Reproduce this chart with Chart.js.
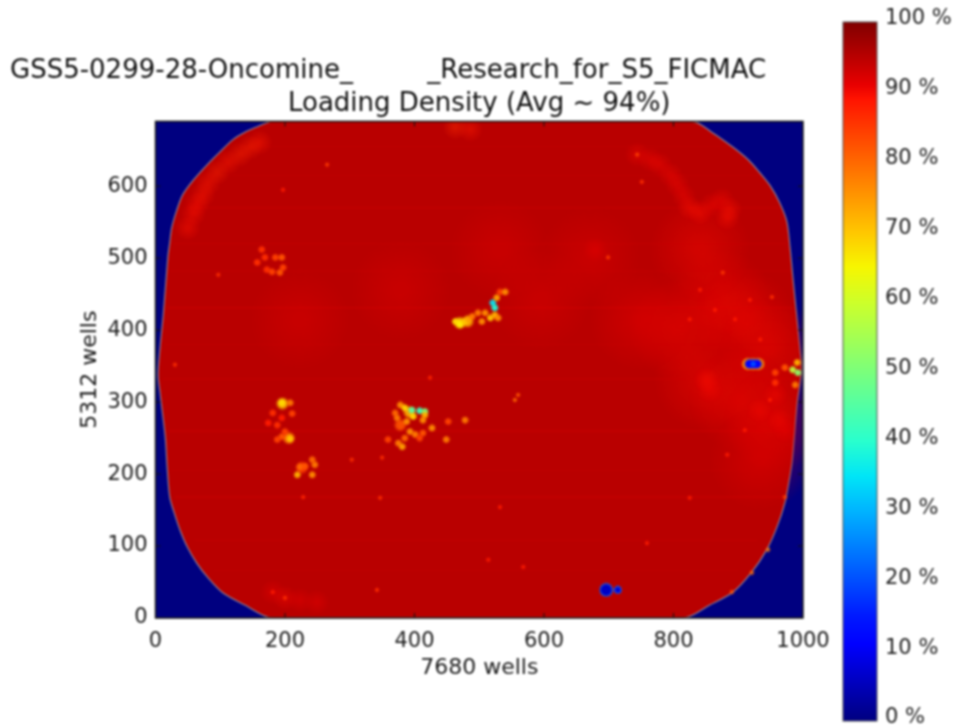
<!DOCTYPE html>
<html><head><meta charset="utf-8">
<style>
html,body{margin:0;padding:0;background:#fff;overflow:hidden;width:955px;height:728px}
canvas{position:absolute;top:0;filter:blur(0.9px)}
#main{left:0}
#bar{left:835px}
</style>
<script src="https://cdn.jsdelivr.net/npm/chart.js@4"></script>
</head><body>
<canvas id="main" width="856" height="760"></canvas>
<canvas id="bar" width="120" height="760"></canvas>
<script>
const titleLine1 = "GSS5-0299-28-Oncomine_         _Research_for_S5_FICMAC";
const titleLine2 = "Loading Density (Avg ~ 94%)";
const xLabel = "7680 wells";
const yLabel = "5312 wells";
const xTicks = [0,200,400,600,800,1000];
const yTicks = [0,100,200,300,400,500,600];
const barTicks = [0,10,20,30,40,50,60,70,80,90,100];
const emptyLevel = 0;
const baseLevel = 95;

// chamber outline in well coordinates
const edgeX = [177,829,859,892,915,933,949,964,975,980,984,995,998,991,983,978,972,960,944,921,892,856,815,181,138,104,81,64,49,38,29,22,18,15,7,4,7,12,19,22,25,33,42,59,80,100,120,138,158,177];
const edgeY = [690,690,675,654,637,619,601,577,551,515,477,376,345,299,216,188,160,127,95,64,36,18,0,0,18,35,56,76,99,122,146,168,210,252,313,338,376,421,501,522,542,567,588,609,630,648,665,675,683,690];

// faint horizontal streaks
const streakY = [655,615,570,520,482,431,380,332,260,205,168,108,66];
const streakFrom = [130,80,48,28,24,18,14,12,20,24,30,60,90];
const streakTo = [885,935,965,976,980,985,990,990,980,978,972,930,900];
const streakLevel = [93,93,92,93,93,91,93,92,91,93,91,93,93];

// broad, slightly brighter areas
const areaX = [872,910,948,848,903,957,933,810,748,671,594,378,223,532,841];
const areaY = [442,415,373,331,303,275,220,401,415,501,442,456,415,512,512];
const areaLevel = [90,90,90,90,90,90,91,90,91,92,92,92,92,92,90];

// bands of brighter wells near the top corners, right side and the edge
const bandX = [161,146,130,112,95,81,73,64,58,50, 744,764,779,795,806,816,825,841,859,875,887,883, 933,957,964,851,856,972,679, 181,200,223,249, 463,486];
const bandY = [661,654,644,633,619,604,588,575,561,542, 644,637,630,616,602,586,570,563,574,581,568,556, 289,310,275,331,317,261,512, 36,28,25,22, 682,679];
const bandLevel = [88,87,87,88,87,88,88,89,89,89, 90,90,90,90,90,90,89,89,90,90,89,89, 90,90,90,89,90,91,91, 91,90,91,91, 86,88];

// larger low density patches
const patchX = [470,482,196,206,392,226,378];
const patchY = [410,412,298,250,286,209,268];
const patchLevel = [68,72,70,76,72,84,82];

// low density clusters
const hotX = [195,208,181,211,188,195,208,195,188,200,174,
  223,219,242,246,242,231,
  378,385,396,408,416,416,413,388,398,370,373,393,401,427,413,408,385,375,381,359,452,478,449,
  463,470,478,483,489,498,504,509,517,524,529,521,524,527,532,540,
  984,992,991,957,957,972,988,
  197,192,169,157,185,172,180,164,195];
const hotY = [299,299,285,284,268,278,249,252,248,259,271,
  210,199,199,213,220,211,
  296,292,289,288,287,282,275,273,280,285,278,259,255,264,257,250,250,243,238,248,273,275,248,
  412,408,412,415,419,424,412,424,417,421,417,438,431,445,453,453,
  345,341,355,341,327,348,324,
  487,480,501,494,501,484,481,512,501];
const hotLevel = [68,78,86,84,86,88,70,82,84,84,88,
  80,72,76,78,80,82,
  76,68,45,42,50,72,76,76,68,80,78,76,78,76,82,84,80,78,74,84,84,78,78,
  68,66,70,74,78,78,76,76,70,72,76,35,38,74,84,76,
  58,52,72,84,86,82,78,
  84,82,86,86,84,86,84,86,82];

// single bright wells
const speckX = [265,555,560,532,514,568,825,759,883,342,200,181,30,946,921,890,972,744,699,876,952,751,97,197,347,228,424,303,350,841,864,895,934,918,825,949,910];
const speckY = [630,303,310,154,81,71,167,104,227,39,28,36,352,95,63,36,168,644,501,480,446,606,477,595,167,168,334,220,223,456,428,415,387,442,415,303,261];
const speckLevel = [85,80,82,88,88,88,88,88,88,86,86,88,86,78,80,82,84,84,85,85,86,86,86,88,86,87,87,86,86,88,88,88,88,88,88,88,88];

// empty spots: halo, then hole, then core
const haloX = [915,923,931];
const haloY = [353,353,353];
const haloLevel = [74,74,74];
const holeX = [917,923,929];
const holeY = [353,353,353];
const holeLevel = [11,11,11];
const coreX = [923];
const coreY = [353];
const coreLevel = [20];
const pitRingX = [696,714];
const pitRingY = [39,39];
const pitRingLevel = [22,22];
const pitX = [696,714];
const pitY = [39,39];
const pitLevel = [6,8];

function jet(v, a){
  const t = v/100;
  const f = (x)=>Math.round(255*Math.max(0,Math.min(1,x)));
  const r = f(t<0.35?0:t<0.66?(t-0.35)/0.31:t<0.89?1:1-(t-0.89)/0.11*0.5);
  const g = f(t<0.125?0:t<0.375?(t-0.125)/0.25:t<0.64?1:t<0.91?1-(t-0.64)/0.27:0);
  const b = f(t<0.11?0.5+t/0.11*0.5:t<0.34?1:t<0.65?1-(t-0.34)/0.31:0);
  return `rgba(${r},${g},${b},${a===undefined?1:a})`;
}
const pts = (xs,ys)=>xs.map((x,i)=>({x,y:ys[i]}));
const font = "'DejaVu Sans'";

// a round marker image, solid in the middle and fading at its rim
function softDot(level, radius, alpha, solid){
  const n = Math.ceil(radius*2), c = document.createElement('canvas');
  c.width = n; c.height = n;
  const g = c.getContext('2d'), r = g.createRadialGradient(n/2,n/2,0,n/2,n/2,radius);
  r.addColorStop(0, jet(level,alpha));
  r.addColorStop(solid, jet(level,alpha));
  r.addColorStop(1, jet(level,0));
  g.fillStyle = r; g.fillRect(0,0,n,n);
  return c;
}
function spots(xs,ys,levels,radius,alpha,solid,order){
  const rad = (i)=>Array.isArray(radius)?radius[i]:radius;
  return {type:'scatter',data:pts(xs,ys),pointRadius:levels.map((v,i)=>rad(i)),pointHoverRadius:radius,
    pointStyle:levels.map((v,i)=>softDot(v,rad(i),alpha,solid)),order};
}
function ticksOn(data,rot){
  return {type:'scatter',data,pointStyle:'line',pointRadius:5,pointRotation:rot,
    pointBorderColor:'#111',pointBorderWidth:1,order:1};
}

const frame = (color,w)=>({id:'frame',afterDraw(c){const a=c.chartArea,x=c.ctx;x.save();x.strokeStyle=color;x.lineWidth=w;
  x.strokeRect(a.left,a.top,a.right-a.left,a.bottom-a.top);x.restore();}});
const plotBack = {id:'plotBack',beforeDraw(c){const a=c.chartArea,x=c.ctx;x.save();x.fillStyle=jet(emptyLevel);
  x.fillRect(a.left,a.top,a.right-a.left,a.bottom-a.top);x.restore();}};

const datasets = [
  {type:'scatter',showLine:true,data:pts(edgeX,edgeY),fill:'shape',backgroundColor:jet(baseLevel),
   borderColor:'#8f8096',borderWidth:1.2,tension:0.3,pointRadius:0,order:100},
  spots(areaX,areaY,areaLevel,52,0.42,0.1,90),
  ...streakY.map((y,i)=>({type:'scatter',showLine:true,data:[{x:streakFrom[i],y},{x:streakTo[i],y}],
    borderColor:jet(streakLevel[i],0.28),borderWidth:1.5,pointRadius:0,order:85})),
  spots(bandX,bandY,bandLevel,13,0.42,0.1,80),
  spots(speckX,speckY,speckLevel,3,0.9,0.3,60),
  spots(patchX,patchY,patchLevel,7,0.9,0.5,55),
  spots(hotX,hotY,hotLevel,4.4,0.95,0.45,50),
  spots(haloX,haloY,haloLevel,7,0.8,0.7,40),
  spots(holeX,holeY,holeLevel,5.5,1,0.6,39),
  spots(coreX,coreY,coreLevel,3.5,1,0.5,38),
  spots(pitRingX,pitRingY,pitRingLevel,[7.5,4.5],1,0.75,37),
  spots(pitX,pitY,pitLevel,[6,3.2],1,0.8,36),
  ticksOn(xTicks.map(x=>({x,y:0})),90),
  ticksOn(xTicks.map(x=>({x,y:690})),90),
  ticksOn(yTicks.map(y=>({x:0,y})),0),
  ticksOn(yTicks.map(y=>({x:1000,y})),0)
];

new Chart(document.getElementById('main'),{
  type:'scatter',
  data:{datasets},
  options:{
    responsive:false,animation:false,events:[],
    layout:{padding:{left:10,right:32,top:0,bottom:79}},
    plugins:{
      legend:{display:false},tooltip:{enabled:false},
      title:{display:true,text:titleLine1,align:'start',color:'#111',font:{family:font,size:26,weight:'normal'},padding:{top:56,bottom:0}},
      subtitle:{display:true,text:titleLine2,align:'center',fullSize:false,color:'#111',font:{family:font,size:26,weight:'normal'},padding:{top:1,bottom:2}}
    },
    scales:{
      x:{type:'linear',min:0,max:1000,grid:{display:false},border:{display:false},
        afterBuildTicks:s=>{s.ticks=xTicks.map(value=>({value}));},
        afterFit:s=>{s.height=63;s.paddingLeft=0;s.paddingRight=0;},
        ticks:{color:'#1c1c1c',font:{family:font,size:21},padding:3,maxRotation:0,autoSkip:false,callback:v=>String(v)},
        title:{display:true,text:xLabel,color:'#1c1c1c',font:{family:font,size:22},padding:{top:0,bottom:0}}},
      y:{type:'linear',min:0,max:690,grid:{display:false},border:{display:false},
        afterBuildTicks:s=>{s.ticks=yTicks.map(value=>({value}));},
        afterFit:s=>{s.width=145.5;s.paddingTop=0;s.paddingBottom=0;},
        ticks:{color:'#1c1c1c',font:{family:font,size:21},padding:0,autoSkip:false,callback:v=>String(v)},
        title:{display:true,text:yLabel,color:'#1c1c1c',font:{family:font,size:22},padding:{top:67,bottom:0}}}
    }
  },
  plugins:[plotBack,frame('#1a1a1a',1.5)]
});

const barLabels = ['density'];
const barValues = [100];
const barStops = [0,5,10,11,15,20,25,30,35,40,45,50,55,60,65,70,75,80,85,89,91,95,100];
new Chart(document.getElementById('bar'),{
  type:'bar',
  data:{labels:barLabels,datasets:[{data:barValues,barPercentage:1,categoryPercentage:1,
    backgroundColor:(c)=>{const a=c.chart.chartArea;if(!a)return jet(50);
      const g=c.chart.ctx.createLinearGradient(0,a.bottom,0,a.top);
      barStops.forEach(v=>g.addColorStop(v/100,jet(v)));return g;}}]},
  options:{
    responsive:false,animation:false,events:[],
    layout:{padding:{left:8,right:0,top:22,bottom:39}},
    plugins:{legend:{display:false},tooltip:{enabled:false}},
    scales:{
      x:{display:false},
      y:{type:'linear',position:'right',min:0,max:100,grid:{display:false},border:{display:false},
        afterBuildTicks:s=>{s.ticks=barTicks.map(value=>({value}));},
        afterFit:s=>{s.width=78;},
        ticks:{color:'#222',font:{family:font,size:21},padding:0,labelOffset:-3,autoSkip:false,callback:v=>v+' %'}}
    }
  },
  plugins:[frame('#555',1)]
});
</script>
</body></html>
